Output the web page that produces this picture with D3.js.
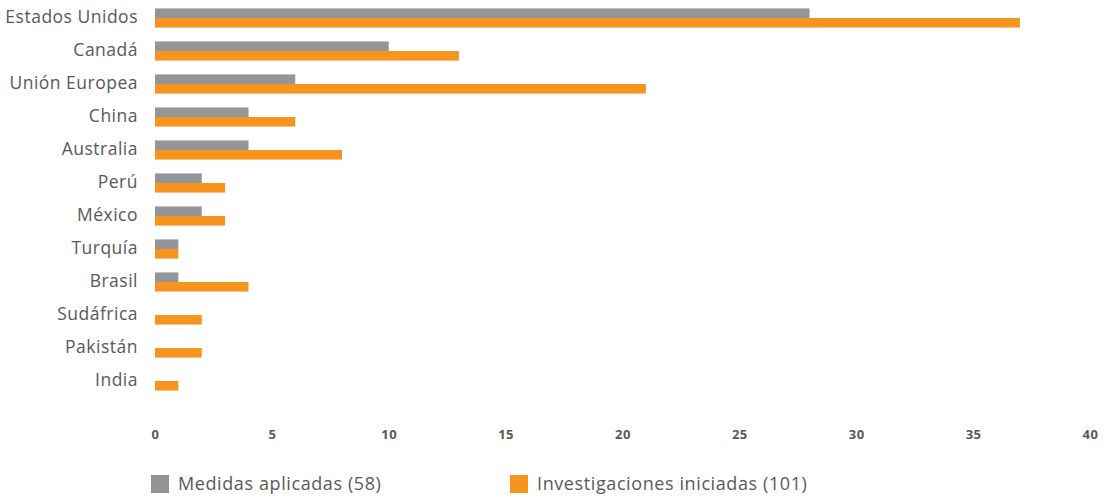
<!DOCTYPE html>
<html>
<head>
<meta charset="utf-8">
<script src="https://cdn.jsdelivr.net/npm/d3@7"></script>
<style>
  body { margin: 0; background: #fff; }
  text { font-family: "Open Sans", Lato, sans-serif; fill: #595959; }
</style>
</head>
<body>
<div id="chart-area"></div>
<script>
const WIDTH = 1109
const HEIGHT = 498

// data
const categories = ["Estados Unidos", "Canadá", "Unión Europea", "China", "Australia", "Perú",
  "México", "Turquía", "Brasil", "Sudáfrica", "Pakistán", "India"]
const medidas = [28, 10, 6, 4, 4, 2, 2, 1, 1, 0, 0, 0]
const investigaciones = [37, 13, 21, 6, 8, 3, 3, 1, 4, 2, 2, 1]
const seriesNames = ["Medidas aplicadas (58)", "Investigaciones iniciadas (101)"]
const xTicks = [0, 5, 10, 15, 20, 25, 30, 35, 40]

const colors = ["#939598", "#F7941D"]

const svg = d3.select("#chart-area").append("svg")
  .attr("width", WIDTH)
  .attr("height", HEIGHT)

const x = d3.scaleLinear().domain([0, 40]).range([155, 1090])

const y0 = d3.scaleBand()
  .domain(categories)
  .range([1.5, 397.5])
  .paddingInner(0.42)
  .paddingOuter(0.21)

const y1 = d3.scaleBand()
  .domain([0, 1])
  .range([0, y0.bandwidth()])

const rows = categories.map((c, i) => ({ name: c, values: [medidas[i], investigaciones[i]] }))

const groups = svg.selectAll("g.row")
  .data(rows)
  .join("g")
  .attr("class", "row")
  .attr("transform", d => `translate(0,${y0(d.name)})`)

groups.selectAll("rect")
  .data(d => d.values.map((v, k) => ({ v, k })).filter(e => e.v > 0))
  .join("rect")
  .attr("x", x(0))
  .attr("y", e => y1(e.k))
  .attr("width", e => x(e.v) - x(0))
  .attr("height", y1.bandwidth())
  .attr("fill", e => colors[e.k])

// category labels
svg.selectAll("text.cat")
  .data(categories)
  .join("text")
  .attr("class", "cat")
  .attr("x", 138)
  .attr("y", d => y0(d) + y0.bandwidth() / 2 - 1)
  .attr("dy", "0.35em")
  .attr("text-anchor", "end")
  .style("font-size", "17.5px")
  .style("letter-spacing", "0.5px")
  .text(d => d)

// x axis
const xAxis = svg.append("g")
  .attr("transform", "translate(0,430)")
  .call(d3.axisBottom(x).tickValues(xTicks).tickSize(0).tickPadding(0))
xAxis.select(".domain").remove()
xAxis.selectAll("text")
  .style("font-size", "13px")
  .style("font-weight", "bold")
  .style("letter-spacing", "0.5px")
  .style("fill", "#595959")
  .style("font-family", "'Open Sans', sans-serif")

// legend
const legendX = [151, 510]
const legend = svg.selectAll("g.legend")
  .data(seriesNames)
  .join("g")
  .attr("class", "legend")
  .attr("transform", (d, i) => `translate(${legendX[i]},475)`)

legend.append("rect")
  .attr("width", 18)
  .attr("height", 18)
  .attr("fill", (d, i) => colors[i])

legend.append("text")
  .attr("x", 27)
  .attr("y", 15)
  .style("font-size", "18px")
  .style("letter-spacing", "0.6px")
  .text(d => d)
</script>
</body>
</html>
